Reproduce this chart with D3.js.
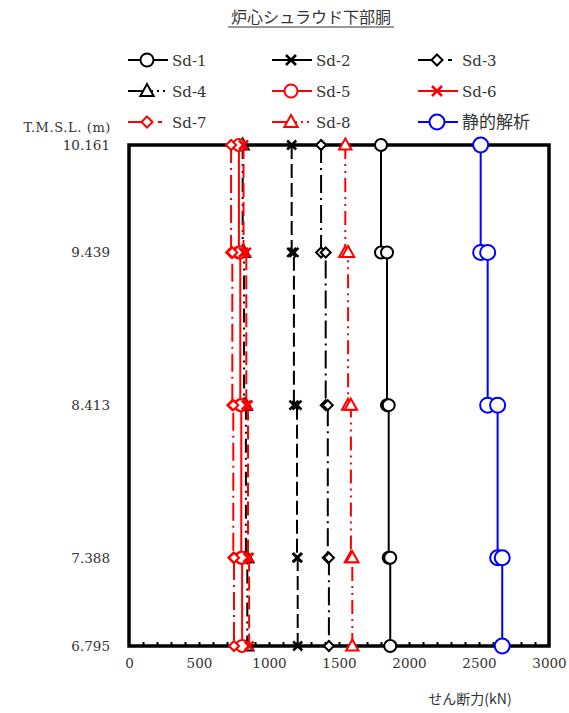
<!DOCTYPE html>
<html>
<head>
<meta charset="utf-8">
<script src="https://cdn.jsdelivr.net/npm/d3@7"></script>
<style>
  body { margin: 0; background: #fff; }
  text { font-family: "DejaVu Serif", "Noto Sans CJK JP", serif; }
  .jp { font-family: "Noto Sans CJK JP", sans-serif; }
</style>
</head>
<body>
<div id="chart"></div>
<script>
// data: elevations (m) and shear per segment (kN), top segment first
const elevations = [10.161, 9.439, 8.413, 7.388, 6.795];
const elevLabels = ["10.161", "9.439", "8.413", "7.388", "6.795"];
const xTicks = [0, 500, 1000, 1500, 2000, 2500, 3000];

const seriesNames = ["Sd-1", "Sd-2", "Sd-3", "Sd-4", "Sd-5", "Sd-6", "Sd-7", "Sd-8", "静的解析"];
const sd1 = [1800, 1843, 1855, 1866];
const sd2 = [1162, 1178, 1200, 1205];
const sd3 = [1372, 1405, 1420, 1428];
const sd4 = [812, 822, 835, 845];
const sd5 = [785, 795, 802, 808];
const sd6 = [818, 838, 850, 858];
const sd7 = [729, 738, 745, 750];
const sd8 = [1545, 1565, 1585, 1595];
const statik = [2512, 2562, 2633, 2666];

const seriesValues = [sd1, sd2, sd3, sd4, sd5, sd6, sd7, sd8, statik];
const seriesColors = ["#000", "#000", "#000", "#000", "#f00", "#f00", "#f00", "#f00", "#00f"];
const seriesMarks = ["circle", "cross", "diamond", "triangle", "circle", "cross", "diamond", "triangle", "circle"];
const seriesDash = [null, "14,5", "18,5,2,5", "14,5,2,5,2,5", null, "14,5", "18,5,2,5", "14,5,2,5,2,5", null];
const legendDash = [null, null, "25,5,4,20", "25,4,2,4,2,20", null, null, "25,5,4,20", "25,4,2,4,2,20", null];

//chart setup
const svgWidth = 569;
const svgHeight = 713;
const margin = { top: 145, right: 20, bottom: 67, left: 129 };
const width = 420;
const height = 501;

const svg = d3.select("#chart")
  .append("svg")
  .attr("width", svgWidth)
  .attr("height", svgHeight);

const chartGroup = svg.append("g")
  .attr("transform", `translate(${margin.left}, ${margin.top})`);

const xScale = d3.scaleLinear().domain([0, 3000]).range([0, width]);
const yScale = d3.scaleLinear().domain([6.795, 10.161]).range([height, 0]);

//title
svg.append("text")
  .attr("class", "jp")
  .attr("x", 311)
  .attr("y", 23)
  .attr("text-anchor", "middle")
  .attr("font-size", "16px")
  .attr("fill", "#333")
  .text("炉心シュラウド下部胴");
svg.append("line")
  .attr("x1", 228).attr("x2", 394)
  .attr("y1", 27).attr("y2", 27)
  .attr("stroke", "#333").attr("stroke-width", 1);

//minor ticks on bottom (inside)
chartGroup.append("g")
  .attr("transform", `translate(0, ${height})`)
  .call(d3.axisBottom(xScale).tickValues(d3.range(100, 3000, 100)).tickSize(-4).tickFormat(""))
  .call(g => g.select(".domain").remove())
  .selectAll("line").attr("stroke", "#000").attr("stroke-width", 2);

//x axis labels
chartGroup.append("g")
  .attr("transform", `translate(0, ${height})`)
  .call(d3.axisBottom(xScale).tickValues(xTicks).tickSize(0).tickPadding(12).tickFormat(d => d))
  .call(g => g.select(".domain").remove())
  .selectAll("text")
  .attr("font-family", "DejaVu Serif, serif")
  .attr("font-size", "13.5px")
  .attr("fill", "#333");

//y axis labels
chartGroup.append("g")
  .call(d3.axisLeft(yScale).tickValues(elevations).tickSize(0).tickPadding(19)
    .tickFormat((d, i) => elevLabels[i]))
  .call(g => g.select(".domain").remove())
  .selectAll("text")
  .attr("font-family", "DejaVu Serif, serif")
  .attr("font-size", "13.5px")
  .attr("fill", "#333");

svg.append("text")
  .attr("x", 111)
  .attr("y", 132)
  .attr("text-anchor", "end")
  .attr("font-size", "13px")
  .attr("letter-spacing", "0.6px")
  .attr("fill", "#333")
  .text("T.M.S.L. (m)");

svg.append("text")
  .attr("class", "jp")
  .attr("x", 470)
  .attr("y", 704)
  .attr("text-anchor", "middle")
  .attr("font-size", "14px")
  .attr("fill", "#333")
  .text("せん断力(kN)");

//frame
chartGroup.append("rect")
  .attr("width", width)
  .attr("height", height)
  .attr("fill", "none")
  .attr("stroke", "#000")
  .attr("stroke-width", 3.5);

//marker shapes
function markerPath(type, r) {
  if (type === "circle") return d3.symbol().type(d3.symbolCircle).size(Math.PI * r * r)();
  if (type === "diamond") return `M0,${-r}L${r},0L0,${r}L${-r},0Z`;
  if (type === "triangle") return `M0,${-r}L${r * 0.95},${r * 0.7}L${-r * 0.95},${r * 0.7}Z`;
  return `M${-r},${-r}L${r},${r}M${-r},${r}L${r},${-r}`;
}
const markSize = { circle: 6, cross: 4.5, diamond: 5, triangle: 6.5 };

function seriesPoints(vals) {
  const pts = [];
  vals.forEach((v, i) => {
    pts.push([v, elevations[i]]);
    pts.push([v, elevations[i + 1]]);
  });
  return pts;
}

const line = d3.line()
  .x(d => xScale(d[0]))
  .y(d => yScale(d[1]));

seriesValues.forEach((vals, s) => {
  const pts = seriesPoints(vals);
  const g = chartGroup.append("g");
  g.append("path")
    .datum(pts)
    .attr("d", line)
    .attr("fill", "none")
    .attr("stroke", seriesColors[s])
    .attr("stroke-width", 2)
    .attr("stroke-dasharray", seriesDash[s]);
  const r = s === 8 ? 7.5 : markSize[seriesMarks[s]];
  g.selectAll("path.mark")
    .data(pts)
    .enter()
    .append("path")
    .attr("class", "mark")
    .attr("transform", d => `translate(${xScale(d[0])}, ${yScale(d[1])})`)
    .attr("d", markerPath(seriesMarks[s], r))
    .attr("fill", seriesMarks[s] === "cross" ? "none" : "#fff")
    .attr("stroke", seriesColors[s])
    .attr("stroke-width", seriesMarks[s] === "cross" ? 2.5 : 2);
});

//legend
const legendX = [128, 272, 418];
const legendY = [60, 91, 122];
seriesNames.forEach((name, s) => {
  const lx = legendX[s % 3];
  const ly = legendY[Math.floor(s / 3)];
  const g = svg.append("g").attr("transform", `translate(${lx}, ${ly})`);
  g.append("line")
    .attr("x1", 0).attr("x2", 40)
    .attr("y1", 0).attr("y2", 0)
    .attr("stroke", seriesColors[s])
    .attr("stroke-width", 2)
    .attr("stroke-dasharray", legendDash[s]);
  g.append("path")
    .attr("transform", "translate(19, 0)")
    .attr("d", markerPath(seriesMarks[s], s === 8 ? 7.5 : markSize[seriesMarks[s]] + 0.5))
    .attr("fill", seriesMarks[s] === "cross" ? "none" : "#fff")
    .attr("stroke", seriesColors[s])
    .attr("stroke-width", seriesMarks[s] === "cross" ? 2.5 : 2);
  g.append("text")
    .attr("class", s === 8 ? "jp" : null)
    .attr("x", 44)
    .attr("y", 6)
    .attr("font-size", s === 8 ? "17px" : "15px")
    .attr("fill", "#333")
    .text(name);
});
</script>
</body>
</html>
